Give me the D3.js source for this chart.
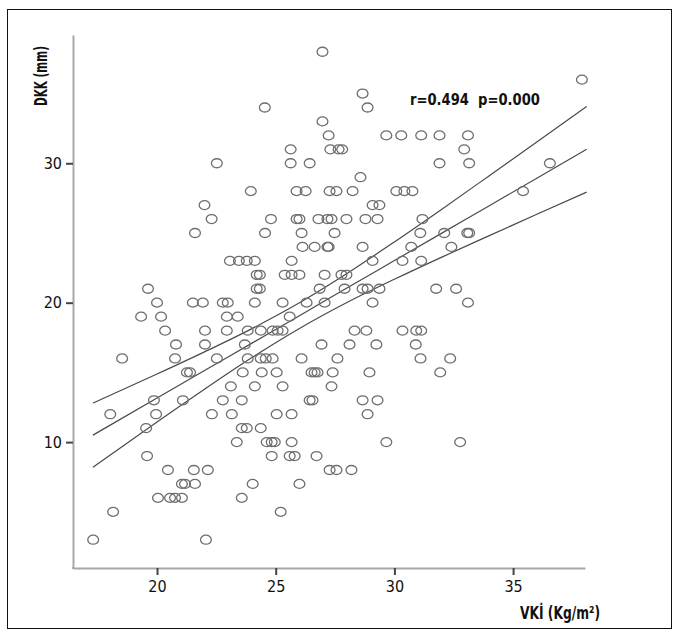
<!DOCTYPE html>
<html lang="tr">
<head>
<meta charset="UTF-8">
<title>DKK - VKİ</title>
<script src="https://d3js.org/d3.v7.min.js"></script>
<style>
  body { margin: 0; background: #fff; }
  svg text { font-family: "Liberation Sans Narrow", "DejaVu Sans Condensed", "Roboto Condensed", sans-serif; fill: #111; }
  .pt { fill: none; stroke: #6e6e6e; stroke-width: 1.3; }
  .fit { fill: none; stroke: #4a4a4a; stroke-width: 1.2; }
</style>
</head>
<body>
<svg width="679" height="635"></svg>
<script>
// VKİ (x) değerleri, DKK (y) satırlarına göre gruplanmış
const bmi = [
  26.97,                                            // 38
  37.9,                                             // 36
  28.66,                                            // 35
  24.54, 28.87,                                     // 34
  26.97,                                            // 33
  27.23, 29.66, 30.29, 31.13, 31.9, 33.1,           // 32
  25.63, 27.3, 27.65, 27.8, 32.94,                  // 31
  22.52, 25.63, 26.43, 31.9, 33.15, 36.55,          // 30
  28.57,                                            // 29
  23.95, 25.88, 26.26, 27.27, 27.56, 28.24, 30.08, 30.42, 30.76, 35.42, // 28
  22.0, 29.08, 29.37,                               // 27
  22.3, 24.8, 25.88, 26.0, 26.8, 27.18, 27.35, 27.98, 28.78, 29.29, 31.18, // 26
  21.6, 24.55, 26.09, 27.48, 31.09, 32.1, 33.07, 33.15, // 25
  26.13, 26.64, 27.18, 27.23, 28.66, 30.71, 32.4,   // 24
  23.07, 23.45, 23.78, 24.12, 25.67, 29.08, 30.34, 31.13, // 23
  24.2, 24.33, 25.38, 25.67, 26.0, 27.06, 27.77, 27.98, // 22
  19.62, 24.2, 24.33, 26.85, 27.9, 28.66, 28.87, 29.37, 31.76, 32.6, // 21
  20.0, 21.51, 21.93, 22.77, 22.98, 24.12, 25.29, 26.3, 27.06, 29.08, 33.1, // 20
  19.33, 20.17, 22.94, 23.4, 25.59,                 // 19
  20.34, 22.02, 22.94, 23.82, 24.37, 24.87, 25.08, 25.29, 28.32, 28.82, 30.34, 30.92, 31.13, // 18
  20.8, 22.02, 23.7, 26.93, 28.11, 29.24, 30.9,     // 17
  18.53, 20.76, 22.52, 23.82, 24.37, 24.58, 24.87, 26.09, 27.6, 31.1, 32.35, // 16
  21.26, 21.39, 23.61, 24.41, 25.04, 26.51, 26.64, 26.76, 27.4, 28.95, 31.93, // 15
  23.11, 24.12, 25.29, 27.35,                       // 14
  19.87, 21.09, 22.77, 23.57, 26.43, 26.55, 28.66, 29.29, // 13
  18.03, 19.96, 22.31, 23.15, 25.04, 25.67, 28.87,  // 12
  19.54, 23.57, 23.78, 24.37,                       // 11
  23.36, 24.62, 24.83, 24.96, 25.67, 29.66, 32.77,  // 10
  19.58, 24.83, 25.59, 25.8, 26.72,                 // 9
  20.46, 21.55, 22.14, 27.27, 27.56, 28.19,         // 8
  21.05, 21.18, 21.6, 24.03, 26.0,                  // 7
  20.04, 20.55, 20.76, 21.05, 23.57,                // 6
  18.15, 25.21,                                     // 5
  17.31, 22.06                                      // 3
];
const dkkRows = [38, 36, 35, 34, 33, 32, 31, 30, 29, 28, 27, 26, 25, 24, 23, 22, 21, 20, 19, 18, 17, 16, 15, 14, 13, 12, 11, 10, 9, 8, 7, 6, 5, 3];
const rowCounts = [1, 1, 1, 2, 1, 6, 5, 6, 1, 10, 3, 11, 8, 7, 8, 8, 10, 11, 5, 13, 7, 11, 11, 4, 8, 7, 4, 7, 5, 6, 5, 5, 2, 2];

// regresyon çizgisi ve %95 güven aralığı
const fitX     = [17.3, 20, 22, 24, 26, 28, 30, 32, 34, 36, 38.1];
const fitMid   = [10.5, 13.16, 15.13, 17.1, 19.07, 21.05, 23.02, 24.99, 26.96, 28.93, 31.0];
const fitUpper = [12.8, 14.88, 16.47, 18.14, 19.99, 22.09, 24.36, 26.71, 29.11, 31.52, 34.07];
const fitLower = [8.2, 11.44, 13.79, 16.06, 18.15, 20.01, 21.68, 23.27, 24.81, 26.34, 27.93];

const xTicks = [20, 25, 30, 35];
const yTicks = [10, 20, 30];
const statText = "r=0.494  p=0.000";

const dkk = [];
dkkRows.forEach((v, i) => { for (let k = 0; k < rowCounts[i]; k++) dkk.push(v); });
const points = bmi.map((b, i) => ({ x: b, y: dkk[i] }));

const svg = d3.select("svg");

// dış çerçeve
svg.append("rect")
  .attr("x", 7.5).attr("y", 9.5)
  .attr("width", 664).attr("height", 619)
  .attr("fill", "none").attr("stroke", "#111").attr("stroke-width", 1);

const plotL = 73, plotR = 585, plotT = 35, plotB = 568;

const x = d3.scaleLinear().domain([16.46, 38.03]).range([plotL, plotR]);
const y = d3.scaleLinear().domain([0.97, 39.2]).range([plotB, plotT]);

// eksenler
const xAxis = svg.append("g").attr("transform", `translate(0,${plotB})`)
  .call(d3.axisBottom(x).tickValues(xTicks).tickSize(7).tickPadding(6).tickSizeOuter(0));
const yAxis = svg.append("g").attr("transform", `translate(${plotL},0)`)
  .call(d3.axisLeft(y).tickValues(yTicks).tickSize(7).tickPadding(4).tickSizeOuter(0));

[xAxis, yAxis].forEach(g => {
  g.select(".domain").attr("stroke", "#a8a8a8").attr("stroke-width", 2);
  g.selectAll(".tick line").attr("stroke", "#444").attr("stroke-width", 2);
  g.selectAll(".tick text").attr("font-size", 16).attr("fill", "#111")
    .style("font-family", '"Liberation Sans Narrow", "DejaVu Sans Condensed", sans-serif');
});
// köşe birleşimi
svg.append("line").attr("x1", plotL).attr("x2", plotL).attr("y1", plotB - 1).attr("y2", plotB + 1)
  .attr("stroke", "#a8a8a8").attr("stroke-width", 2);

// regresyon çizgileri
const line = d3.line().x(d => x(d[0])).y(d => y(d[1])).curve(d3.curveMonotoneX);
[fitUpper, fitMid, fitLower].forEach(vals => {
  svg.append("path").attr("class", "fit")
    .attr("d", line(fitX.map((v, i) => [v, vals[i]])));
});

// noktalar
svg.append("g").selectAll("ellipse")
  .data(points)
  .join("ellipse")
  .attr("class", "pt")
  .attr("cx", d => x(d.x))
  .attr("cy", d => y(d.y))
  .attr("rx", 5.4)
  .attr("ry", 4.5);

// eksen başlıkları (dar yazı)
svg.append("text")
  .attr("transform", "translate(47,76) rotate(-90)")
  .attr("text-anchor", "middle")
  .attr("font-size", 17).attr("font-weight", "bold")
  .attr("textLength", 60).attr("lengthAdjust", "spacingAndGlyphs")
  .text("DKK (mm)");

svg.append("text")
  .attr("x", 520).attr("y", 619)
  .attr("font-size", 17).attr("font-weight", "bold")
  .attr("textLength", 80).attr("lengthAdjust", "spacingAndGlyphs")
  .text("VKİ (Kg/m²)");

svg.append("text")
  .attr("x", 410).attr("y", 105)
  .attr("font-size", 16).attr("font-weight", "bold")
  .attr("xml:space", "preserve")
  .style("white-space", "pre")
  .attr("textLength", 130).attr("lengthAdjust", "spacingAndGlyphs")
  .text(statText);
</script>
</body>
</html>
